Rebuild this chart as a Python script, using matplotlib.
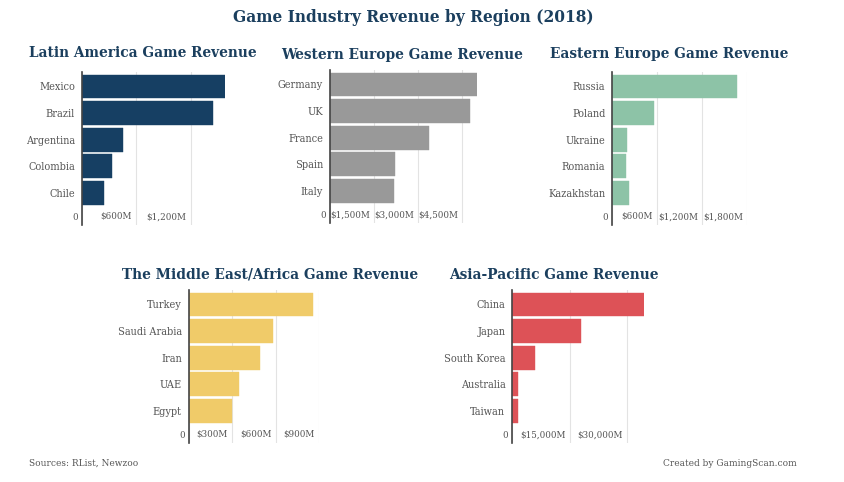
import matplotlib
matplotlib.use('Agg')
import matplotlib.pyplot as plt
from matplotlib.transforms import ScaledTranslation

W, H = 844, 482

plt.rcParams['font.family'] = ['DejaVu Serif']
plt.rcParams['font.stretch'] = 'condensed'

# Values in millions of dollars
latam_names = ['Mexico', 'Brazil', 'Argentina', 'Colombia', 'Chile']
latam_values = [1575, 1447, 453, 331, 243]
latam_ticks = [0, 600, 1200]

weu_names = ['Germany', 'UK', 'France', 'Spain', 'Italy']
weu_values = [5011, 4756, 3392, 2216, 2182]
weu_ticks = [0, 1500, 3000, 4500]

eeu_names = ['Russia', 'Poland', 'Ukraine', 'Romania', 'Kazakhstan']
eeu_values = [1663, 552, 192, 186, 218]
eeu_ticks = [0, 600, 1200, 1800]

mea_names = ['Turkey', 'Saudi Arabia', 'Iran', 'UAE', 'Egypt']
mea_values = [857, 581, 490, 345, 299]
mea_ticks = [0, 300, 600, 900]

apac_names = ['China', 'Japan', 'South Korea', 'Australia', 'Taiwan']
apac_values = [34555, 17900, 5940, 1490, 1400]
apac_ticks = [0, 15000, 30000]

TITLE_COLOR = '#1b3f5e'
TEXT_COLOR = '#555555'

# title, names, values, ticks, color, then pixel layout:
# title x, title y, axis x, axis top, axis bottom, px per tick step
panels = [
    ('Latin America Game Revenue', latam_names, latam_values, latam_ticks, '#163f63', 29, 53, 82, 72, 225, 54.3),
    ('Western Europe Game Revenue', weu_names, weu_values, weu_ticks, '#999999', 281, 55, 330, 70, 223, 44),
    ('Eastern Europe Game Revenue', eeu_names, eeu_values, eeu_ticks, '#8dc3a7', 550, 54, 612.3, 72, 225, 45),
    ('The Middle East/Africa Game Revenue', mea_names, mea_values, mea_ticks, '#f0cb69', 122, 275, 188.7, 290, 443, 43.5),
    ('Asia-Pacific Game Revenue', apac_names, apac_values, apac_ticks, '#dd5257', 449, 275, 512.3, 290, 443, 57.3),
]


def tick_label(v):
    if v == 0:
        return '0'
    return f'${v:,}M'


fig = plt.figure(figsize=(W / 100, H / 100), dpi=100)
fig.text(413 / W, 1 - 17 / H, 'Game Industry Revenue by Region (2018)', color=TITLE_COLOR,
         fontsize=12.35, fontweight='bold', ha='center', va='center')

for title, names, values, ticks, color, tx, ty, ax_x, ax_top, ax_bot, step_px in panels:
    step = ticks[1]
    x_max = max(max(values), ticks[-1])
    width = x_max / step * step_px
    ax = fig.add_axes([ax_x / W, 1 - ax_bot / H, width / W, (ax_bot - ax_top) / H])

    ax.barh(names, values, height=0.89, color=color, edgecolor=color, linewidth=0.3, zorder=2)
    ax.set_xlim(0, x_max)
    # bands are 26.6 px tall, first one centred 14.5 px below the axis top
    band = 26.6
    top = -14.5 / band
    ax.set_ylim(top + (ax_bot - ax_top) / band, top)

    ax.set_xticks(ticks)
    ax.set_xticklabels([tick_label(t) for t in ticks], ha='right')
    ax.tick_params(axis='x', length=0, pad=-9, labelsize=7, labelcolor=TEXT_COLOR)
    ax.tick_params(axis='y', length=0, pad=5, labelsize=7.8, labelcolor=TEXT_COLOR)
    shift = ScaledTranslation(-3 / 72, 0, fig.dpi_scale_trans)
    for lbl in ax.get_xticklabels():
        lbl.set_transform(lbl.get_transform() + shift)

    ax.grid(True, axis='x', color='#e3e3e3', linewidth=0.8, zorder=0)
    ax.set_axisbelow(True)
    for side in ['top', 'right', 'bottom']:
        ax.spines[side].set_visible(False)
    ax.spines['left'].set_color('#444444')
    ax.spines['left'].set_linewidth(1.2)
    ax.spines['left'].set_zorder(5)
    ax.patch.set_alpha(0)

    fig.text(tx / W, 1 - ty / H, title, color=TITLE_COLOR, fontsize=10.95, fontweight='bold',
             ha='left', va='center')

fig.text(29 / W, 1 - 463 / H, 'Sources: RList, Newzoo', color=TEXT_COLOR, fontsize=7.2, ha='left', va='center')
fig.text(797 / W, 1 - 463 / H, 'Created by GamingScan.com', color=TEXT_COLOR, fontsize=7.2, ha='right', va='center')

fig.savefig('out.png', dpi=100)
